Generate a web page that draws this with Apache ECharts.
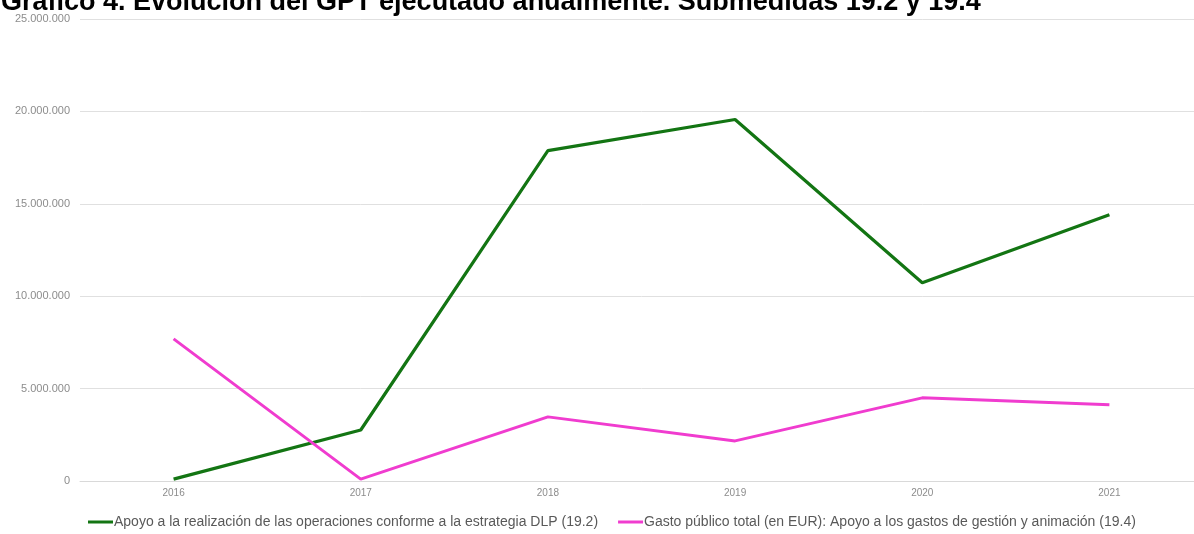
<!DOCTYPE html>
<html><head><meta charset="utf-8">
<script src="https://cdn.jsdelivr.net/npm/echarts@6/dist/echarts.min.js"></script>
<style>html,body{margin:0;padding:0;background:#fff;overflow:hidden;width:1194px;height:534px}#c{width:1203px;height:534px}</style>
</head><body><div id="c"></div>
<script>
const titleText = "Gráfico 4. Evolución del GPT ejecutado anualmente. Submedidas 19.2 y 19.4";
const years = ["2016","2017","2018","2019","2020","2021"];
const seriesNames = [
  "Apoyo a la realización de las operaciones conforme a la estrategia DLP (19.2)",
  "Gasto público total (en EUR): Apoyo a los gastos de gestión y animación (19.4)"
];
const apoyo192 = [100000, 2760000, 17880000, 19560000, 10730000, 14410000];
const gasto194 = [7690000, 100000, 3470000, 2170000, 4500000, 4120000];
const yTicks = [0, 5000000, 10000000, 15000000, 20000000, 25000000];

function fmt(v){ return String(v).replace(/\B(?=(\d{3})+(?!\d))/g, "."); }

const chart = echarts.init(document.getElementById('c'));
chart.setOption({
  animation:false,
  backgroundColor:'#fff',
  title:{text:titleText,left:-4,top:-16,textStyle:{fontFamily:'Liberation Sans, Arial',fontWeight:'bold',fontSize:27,color:'#000'}},
  grid:{left:80,right:0,top:19,bottom:53},
  xAxis:{type:'category',data:years,boundaryGap:true,
    axisLine:{lineStyle:{color:'#d9d9d9'}},axisTick:{show:false},
    axisLabel:{color:'#8c8c8c',fontSize:10,margin:7,fontFamily:'Liberation Sans, Arial'}},
  yAxis:{type:'value',min:yTicks[0],max:yTicks[yTicks.length-1],interval:yTicks[1]-yTicks[0],
    axisLine:{show:false},axisTick:{show:false},
    splitLine:{lineStyle:{color:'#e0e0e0'}},
    axisLabel:{color:'#8c8c8c',fontSize:11,margin:10,formatter:fmt,fontFamily:'Liberation Sans, Arial'}},
  legend:{bottom:0,left:83,itemGap:20,itemWidth:25,itemHeight:3,icon:'rect',
    textStyle:{color:'#595959',fontSize:14,padding:[0,0,0,-4],fontFamily:'Liberation Sans, Arial'}},
  series:[
    {name:seriesNames[0],type:'line',data:apoyo192,symbol:'none',lineStyle:{color:'#137513',width:3.2},itemStyle:{color:'#137513'}},
    {name:seriesNames[1],type:'line',data:gasto194,symbol:'none',lineStyle:{color:'#f03ccf',width:3},itemStyle:{color:'#f03ccf'}}
  ]
});
</script></body></html>
